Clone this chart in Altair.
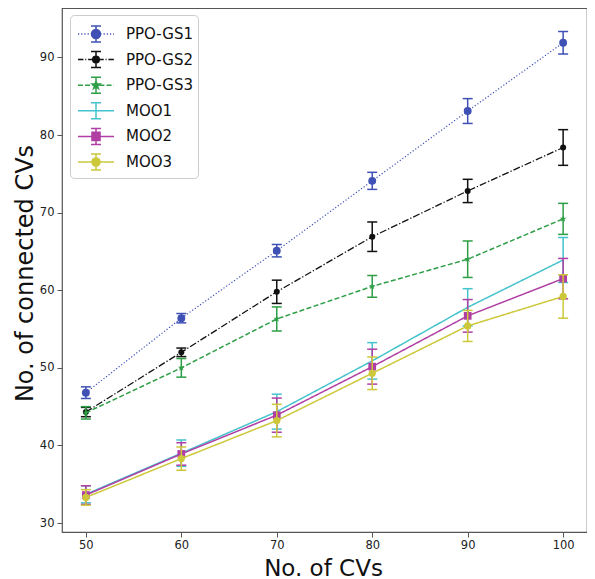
import altair as alt
import pandas as pd

# ---------------- data ----------------
n_cvs = [50, 60, 70, 80, 90, 100]
series_names = ["PPO-GS1", "PPO-GS2", "PPO-GS3", "MOO1", "MOO2", "MOO3"]

gs1_mean = [46.8, 56.4, 65.1, 74.1, 83.1, 91.9]
gs1_err = [0.75, 0.6, 0.8, 1.1, 1.6, 1.45]
gs2_mean = [44.3, 52.0, 59.8, 66.9, 72.8, 78.4]
gs2_err = [0.6, 0.55, 1.5, 1.9, 1.5, 2.3]
gs3_mean = [44.2, 50.0, 56.3, 60.5, 64.0, 69.2]
gs3_err = [0.8, 1.2, 1.55, 1.4, 2.35, 2.0]
moo1_mean = [33.7, 39.0, 44.35, 50.9, 57.8, 63.9]
moo1_err = [1.1, 1.7, 2.25, 2.35, 2.4, 2.9]
moo2_mean = [33.6, 38.9, 43.9, 50.15, 56.7, 61.5]
moo2_err = [1.2, 1.45, 2.2, 2.25, 2.1, 2.6]
moo3_mean = [33.3, 38.3, 43.2, 49.3, 55.4, 59.2]
moo3_err = [1.0, 1.5, 2.1, 2.1, 2.0, 2.8]

means = [gs1_mean, gs2_mean, gs3_mean, moo1_mean, moo2_mean, moo3_mean]
errs = [gs1_err, gs2_err, gs3_err, moo1_err, moo2_err, moo3_err]

# ---------------- styles ----------------
colors = ["#3F51B5", "#111111", "#2E9E47", "#45C3CC", "#B03FA3", "#CCC83A"]
line_dash = [[1.2, 2.0], [7, 2, 1.3, 2], [5, 2.4], [1, 0], [1, 0], [1, 0]]
line_width = [1.2, 1.3, 1.5, 1.5, 1.5, 1.5]
STAR = ("M0,-1L0.2245,-0.309L0.951,-0.309L0.363,0.118L0.588,0.809L0,0.382"
        "L-0.588,0.809L-0.363,0.118L-0.951,-0.309L-0.2245,-0.309Z")
marker_shape = ["circle", "circle", STAR, None, "square", "circle"]
marker_size = [62, 36, 50, 0, 60, 52]

HW = 1.385  # half width of legend glyph (symbol units)


def seg_line(pattern):
    """Horizontal line across the legend glyph made of dash segments."""
    parts = []
    x = -HW
    i = 0
    while x < HW:
        on = pattern[i % len(pattern)]
        off = pattern[(i + 1) % len(pattern)]
        x2 = min(x + on, HW)
        parts.append(f"M{x:.3f},0H{x2:.3f}")
        x = x2 + off
        i += 2
    return "".join(parts)


def circle(r):
    return f"M{r},0A{r},{r} 0 1,1 {-r},0A{r},{r} 0 1,1 {r},0Z"


def square(h):
    return f"M{-h},{-h}H{h}V{h}H{-h}Z"


def star(r):
    pts = [(0, -1), (0.2245, -0.309), (0.951, -0.309), (0.363, 0.118), (0.588, 0.809),
           (0, 0.382), (-0.588, 0.809), (-0.363, 0.118), (-0.951, -0.309), (-0.2245, -0.309)]
    return "M" + "L".join(f"{px*r:.3f},{py*r:.3f}" for px, py in pts) + "Z"


EB = "M0,-0.615V0.615M-0.385,-0.615H0.385M-0.385,0.615H0.385"
SOLID = f"M{-HW},0H{HW}"
legend_paths = [
    seg_line([0.092, 0.154]) + EB + circle(0.346),
    seg_line([0.42, 0.14, 0.08, 0.14]) + EB + circle(0.254),
    seg_line([0.38, 0.17]) + EB + star(0.31),
    SOLID + EB,
    SOLID + EB + square(0.31),
    SOLID + EB + circle(0.31),
]

# ---------------- table ----------------
rows = []
for s, m, e in zip(series_names, means, errs):
    for xv, mv, ev in zip(n_cvs, m, e):
        rows.append({"series": s, "x": xv, "y": mv, "lo": mv - ev, "hi": mv + ev})
df = pd.DataFrame(rows)

x_scale = alt.Scale(domain=[47.5, 102.5], nice=False, zero=False)
y_scale = alt.Scale(domain=[28.84, 96.38], nice=False, zero=False)

x_axis = alt.Axis(
    values=n_cvs, format="d", title="No. of CVs", titleFontSize=23,
    titleFontWeight="normal", titleX=261, titleY=43, titleBaseline="alphabetic",
    titleAnchor="start", titleAlign="center", labelPadding=2,
)
y_axis = alt.Axis(
    values=[30, 40, 50, 60, 70, 80, 90], format="d", title="No. of connected CVs",
    titleFontSize=24, titleFontWeight="normal", titleX=-30, titleY=265,
    titleBaseline="alphabetic", titleAlign="center", titleAngle=-90,
)

base = alt.Chart(df)
layers = []
for i, s in enumerate(series_names):
    src = base.transform_filter(alt.datum.series == s)
    c = colors[i]
    rule = src.mark_rule(color=c, strokeWidth=1.5).encode(
        x=alt.X("x:Q", scale=x_scale, axis=x_axis),
        y=alt.Y("lo:Q", scale=y_scale, axis=y_axis),
        y2="hi:Q",
    )
    cap_lo = src.mark_tick(color=c, orient="horizontal", size=10, thickness=1.5, opacity=1).encode(
        x="x:Q", y="lo:Q")
    cap_hi = src.mark_tick(color=c, orient="horizontal", size=10, thickness=1.5, opacity=1).encode(
        x="x:Q", y="hi:Q")
    line = src.mark_line(color=c, strokeWidth=line_width[i], strokeDash=line_dash[i]).encode(
        x="x:Q", y="y:Q")
    layers += [rule, cap_lo, cap_hi, line]
    if marker_shape[i] is not None:
        pts = src.mark_point(filled=True, color=c, shape=marker_shape[i],
                             size=marker_size[i], opacity=1, strokeWidth=0).encode(
            x="x:Q", y="y:Q")
        layers.append(pts)

# legend-only layer (no data rows drawn)
legend_layer = base.transform_filter("false").mark_point(
    filled=True, opacity=1, strokeWidth=1.5
).encode(
    x="x:Q",
    y="y:Q",
    shape=alt.Shape("series:N", scale=alt.Scale(domain=series_names, range=legend_paths),
                    legend=alt.Legend(title=None)),
    fill=alt.Fill("series:N", scale=alt.Scale(domain=series_names, range=colors),
                  legend=alt.Legend(title=None)),
    stroke=alt.Stroke("series:N", scale=alt.Scale(domain=series_names, range=colors),
                      legend=alt.Legend(title=None)),
)
layers.append(legend_layer)

chart = alt.layer(*layers).properties(
    width=525, height=524,
    autosize=alt.AutoSizeParams(type="none"),
    padding={"left": 54, "top": 0, "right": 0, "bottom": 47},
).configure_view(
    stroke="#555555", strokeWidth=1.2,
).configure_axis(
    grid=False, domain=False, tickColor="#555555", tickSize=5, tickWidth=1,
    labelFont="DejaVu Sans", labelFontSize=11.5, labelColor="#222222", labelPadding=3,
    titleFont="DejaVu Sans", titleColor="#111111",
).configure_legend(
    orient="none", legendX=8, legendY=7,
    fillColor="white", strokeColor="#cccccc", cornerRadius=4, padding=5,
    symbolSize=676, symbolStrokeWidth=1.5, symbolOffset=7,
    labelFont="DejaVu Sans", labelFontSize=15, labelColor="#111111",
    labelOffset=16, rowPadding=0.6,
)

chart.save("out.html", embed_options={"renderer": "svg", "actions": False})
